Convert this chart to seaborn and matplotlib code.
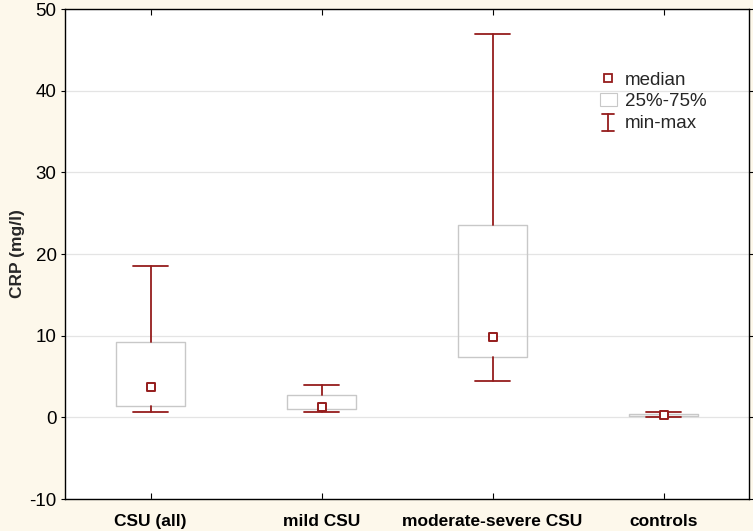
import matplotlib
matplotlib.use("Agg")
import matplotlib.pyplot as plt
import seaborn as sns
import pandas as pd
from matplotlib.lines import Line2D
from matplotlib.patches import Rectangle
from matplotlib.legend_handler import HandlerBase

categories = ["CSU (all)", "mild CSU", "moderate-severe CSU", "controls"]
mins = [0.7, 0.7, 4.4, 0.1]
q1s = [1.4, 1.0, 7.4, 0.2]
medians = [3.7, 1.3, 9.8, 0.3]
q3s = [9.2, 2.7, 23.5, 0.4]
maxs = [18.5, 3.9, 47.0, 0.6]
yticks = [-10, 0, 10, 20, 30, 40, 50]

sns.set_theme(style="white")
plt.rcParams['font.family'] = ['Liberation Sans', 'DejaVu Sans']

RED = "#951c1c"
GRAY = "#c8c8c8"
BG = "#fdf8eb"

fig = plt.figure(figsize=(7.53, 5.31), dpi=100, facecolor=BG)
ax = fig.add_axes([65/753, 1 - 499/531, 684/753, 490/531])
ax.set_facecolor("white")

stats = []
for c, lo, a, m, b, hi in zip(categories, mins, q1s, medians, q3s, maxs):
    stats.append(dict(label=c, whislo=lo, q1=a, med=m, q3=b, whishi=hi))
pos = list(range(len(categories)))
ax.bxp(stats, positions=pos, widths=0.4, showfliers=False,
       boxprops=dict(color=GRAY, linewidth=1.0),
       whiskerprops=dict(color=RED, linewidth=1.3),
       capprops=dict(color=RED, linewidth=1.3),
       medianprops=dict(linewidth=0), capwidths=0.2, zorder=2)

df = pd.DataFrame({"x": pos, "median": medians})
sns.scatterplot(data=df, x="x", y="median", marker="s", s=38,
                facecolor="white", edgecolor=RED, linewidth=1.4, ax=ax, zorder=4)

ax.set_xlim(-0.5, 3.5)
ax.set_ylim(-10, 50)
ax.set_yticks(yticks)
ax.set_yticklabels([str(v) for v in yticks], fontsize=13.5)
ax.set_xticks(pos)
ax.set_xticklabels(categories, fontsize=12.5, fontweight="bold")
ax.set_xlabel("")
ax.set_ylabel("CRP (mg/l)", fontsize=12.5, fontweight="bold", labelpad=3)
ax.grid(axis="y", color="#e4e4e4", linewidth=0.9, zorder=0)
ax.set_axisbelow(True)
for s in ax.spines.values():
    s.set_color("black")
    s.set_linewidth(1.0)
ax.tick_params(axis="y", which="both", direction="out", length=3, width=0.8,
               left=True, right=True, pad=3, colors="black")
ax.tick_params(axis="x", which="both", direction="in", length=4, width=0.8,
               bottom=True, top=True, pad=11, colors="black")


class IBarHandler(HandlerBase):
    def create_artists(self, legend, orig_handle, xdescent, ydescent,
                       width, height, fontsize, trans):
        cx = width / 2 - xdescent
        y0 = -ydescent - height * 0.25
        y1 = -ydescent + height * 1.05
        hw = width * 0.35
        lines = [
            Line2D([cx, cx], [y0, y1], color=RED, lw=1.3, transform=trans),
            Line2D([cx - hw, cx + hw], [y0, y0], color=RED, lw=1.3, transform=trans),
            Line2D([cx - hw, cx + hw], [y1, y1], color=RED, lw=1.3, transform=trans),
        ]
        return lines


class IBar:
    pass


handles = [
    Line2D([], [], marker="s", linestyle="none", markersize=5.5,
           markerfacecolor="white", markeredgecolor=RED, markeredgewidth=1.3),
    Rectangle((0, 0), 1, 1, facecolor="white", edgecolor=GRAY, linewidth=0.8),
    IBar(),
]
ax.legend(handles, ["median", "25%-75%", "min-max"], loc="upper left",
          bbox_to_anchor=(0.757, 0.907), frameon=False, fontsize=13.5,
          handlelength=0.9, handletextpad=0.45, labelspacing=0.25,
          handler_map={IBar: IBarHandler()})

fig.savefig("out.png", dpi=100, facecolor=BG)
